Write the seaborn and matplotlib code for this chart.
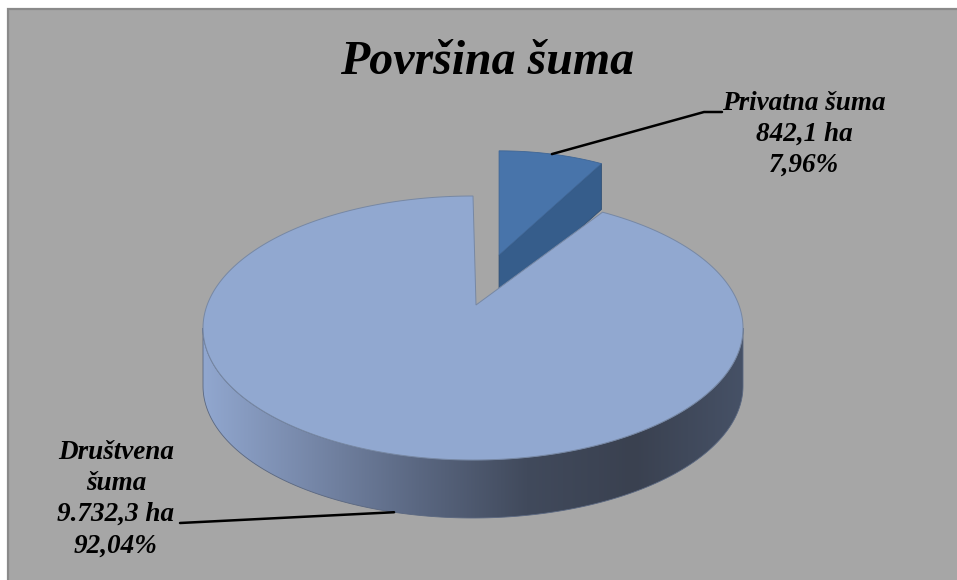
import numpy as np
import matplotlib
matplotlib.use("Agg")
import matplotlib.pyplot as plt
from matplotlib.patches import Polygon, Rectangle
import seaborn as sns

# data
categories = ["Privatna šuma", "Društvena šuma"]
area_ha = [842.1, 9732.3]
share_pct = [7.96, 92.04]
title = "Površina šuma"

sns.set_theme(style="white")
plt.rcParams["font.family"] = ["Liberation Serif", "DejaVu Serif"]


def fmt_num(v, dec):
    s = f"{v:,.{dec}f}"
    return s.replace(",", "X").replace(".", ",").replace("X", ".")


# pie geometry (pixel coords of the figure)
CX, CY = 473, 328
RX, RY = 270, 132
DEPTH = 58
APEX_DY = -23        # fake perspective: apex sits above ellipse centre
EXPLODE = 0.39
FAR = 0.79           # exploded slice sits further back -> drawn smaller

frac = np.array(area_ha) / sum(area_ha)
start = 90.0
a_small = (start, start - 360 * frac[0])      # clockwise from 12 o'clock
a_main = (a_small[1], start - 360)
mid_small = (a_small[0] + a_small[1]) / 2
off_small = (RX * EXPLODE * np.cos(np.radians(mid_small)),
             -RY * EXPLODE * np.sin(np.radians(mid_small)) + APEX_DY)


def rim(t, s=1.0, dz=0.0, off=(0, 0)):
    t = np.radians(t)
    return np.column_stack([CX + off[0] + RX * s * np.cos(t),
                            CY + off[1] - RY * s * np.sin(t) + dz])


def apex(off=(0, 0)):
    return np.array([CX + off[0], CY + off[1]])


fig = plt.figure(figsize=(9.57, 5.8), dpi=100, facecolor="white")
ax = fig.add_axes([0, 0, 1, 1])
ax.set_xlim(0, 957)
ax.set_ylim(580, 0)
ax.axis("off")

ax.add_patch(Rectangle((8, 9), 960, 580, facecolor="#a6a6a6",
                       edgecolor="#8a8a8a", lw=1.6, zorder=0))

# --- small (exploded) slice ---
sv = apex(off_small)
r_end = rim(a_small[1], FAR, 0, off_small)[0]
d_s = DEPTH * FAR
cut = np.array([sv, r_end, r_end + [0, d_s], sv + [0, d_s]])
ax.add_patch(Polygon(cut, closed=True, facecolor="#365d8b",
                     edgecolor="#2f4f75", lw=0.6, zorder=2))
ts = np.linspace(a_small[1], a_small[0], 60)
top_small = np.vstack([sv, rim(ts, FAR, 0, off_small)])
ax.add_patch(Polygon(top_small, closed=True, facecolor="#4874aa",
                     edgecolor="#3f6696", lw=0.6, zorder=3))

# --- main slice: front side wall with gradient ---
tf = np.linspace(-180, 0, 200)
wall = np.vstack([rim(tf), rim(tf[::-1], 1, DEPTH)])
ax.add_patch(Polygon(wall, closed=True, facecolor="none",
                     edgecolor="#5a6780", lw=0.6, zorder=5))
cmap = sns.blend_palette(["#91a7cf", "#7687a8", "#5a6781", "#414a5c",
                          "#3a4150", "#465166"], as_cmap=True)
grad = np.linspace(0, 1, 256)[None, :]
img = ax.imshow(grad, cmap=cmap,
                extent=(CX - RX, CX + RX, CY + RY + DEPTH + 2, CY - 2),
                aspect="auto", zorder=4, interpolation="bilinear")
img.set_clip_path(Polygon(wall, closed=True, transform=ax.transData))

tm = np.linspace(a_main[1], a_main[0], 400)
top_main = np.vstack([apex((3, APEX_DY)), rim(tm)])
ax.add_patch(Polygon(top_main, closed=True, facecolor="#91a8d0",
                     edgecolor="#7788a4", lw=0.7, zorder=6))

ax.set_xlim(0, 957)
ax.set_ylim(580, 0)
ax.set_aspect("auto")

# --- labels ---
txt_kw = dict(fontsize=19.5, fontweight="bold", fontstyle="italic",
              color="black", ha="center", va="top", linespacing=1.32, zorder=8)
lab0 = f"{categories[0]}\n{fmt_num(area_ha[0], 1)} ha\n{fmt_num(share_pct[0], 2)}%"
ax.text(804, 91, lab0, **txt_kw)
lab1 = (categories[1].replace(" ", "\n") + f"\n{fmt_num(area_ha[1], 1)} ha"
        f"\n{fmt_num(share_pct[1], 2)}%")
ax.text(116, 440, lab1, **txt_kw)

p0 = rim(mid_small, FAR, 0, off_small)[0]
ax.plot([p0[0], 704, 722], [p0[1], 112, 112], color="black", lw=1.8, zorder=7)
p1 = rim(-107, 1, DEPTH)[0]
ax.plot([p1[0], 180], [p1[1], 523], color="black", lw=1.8, zorder=7)

ax.text(487, 74, title, fontsize=34.5, fontweight="bold", fontstyle="italic",
        ha="center", va="baseline", color="black", zorder=8)

fig.savefig("out.png", dpi=100, facecolor="white")
